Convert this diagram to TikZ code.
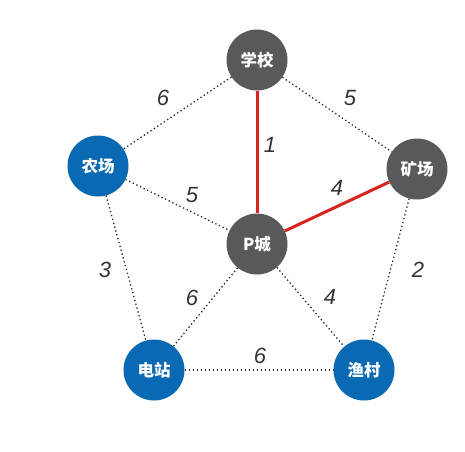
\documentclass[tikz,border=0pt]{standalone}
\usepackage{fontspec}
\setmainfont{Liberation Sans}
\newfontfamily\cjk{Noto Sans CJK SC}
\usetikzlibrary{positioning}
\definecolor{townGray}{HTML}{59595B}
\definecolor{siteBlue}{HTML}{0A69B3}
\definecolor{roadRed}{HTML}{D8231F}
\tikzset{
  place/.style={circle,minimum size=61pt,inner sep=0pt,text=white,font=\cjk\bfseries\fontsize{16.5}{16.5}\selectfont},
}

\begin{document}
\begin{tikzpicture}[x=1pt,y=-1pt,
   town/.style={place,fill=townGray},
   site/.style={place,fill=siteBlue},
   road/.style={line width=1.3pt,dash pattern=on 1.3pt off 2.7pt,black!85},
   chosen/.style={line width=3pt,roadRed},
   wt/.style={font=\itshape\fontsize{22}{22}\selectfont,text=black!80,inner sep=1pt}]
  \useasboundingbox (0,0) rectangle (465,451);
  \node[town] (xx) at (257,60) {学校};
  \node[town] (kc) at (417,169) {矿场};
  \node[site] (nc) at (98,166) {农场};
  \node[town] (pc) at (257,244) {P城};
  \node[site] (dz) at (154,370) {电站};
  \node[site] (yc) at (364,370) {渔村};
  % dotted roads
  \draw[road] (xx) -- (nc);
  \draw[road] (xx) -- (kc);
  \draw[road] (nc) -- (pc);
  \draw[road] (nc) -- (dz);
  \draw[road] (kc) -- (yc);
  \draw[road] (pc) -- (dz);
  \draw[road] (pc) -- (yc);
  \draw[road] (dz) -- (yc);
  % chosen roads
  \draw[chosen] (xx) -- (pc);
  \draw[chosen] (pc) -- (kc);
  % weights
  \node[wt] (w1) at (163,98) {6};
  \node[wt] (w2) at (350,98) {5};
  \node[wt] (w3) at (270,145) {1};
  \node[wt] (w4) at (192,195) {5};
  \node[wt] (w5) at (337,188) {4};
  \node[wt] (w6) at (105,270) {3};
  \node[wt] (w7) at (192,298) {6};
  \node[wt] (w8) at (330,297) {4};
  \node[wt] (w9) at (418,270) {2};
  \node[wt] (w10) at (260,356) {6};
\end{tikzpicture}
\end{document}
